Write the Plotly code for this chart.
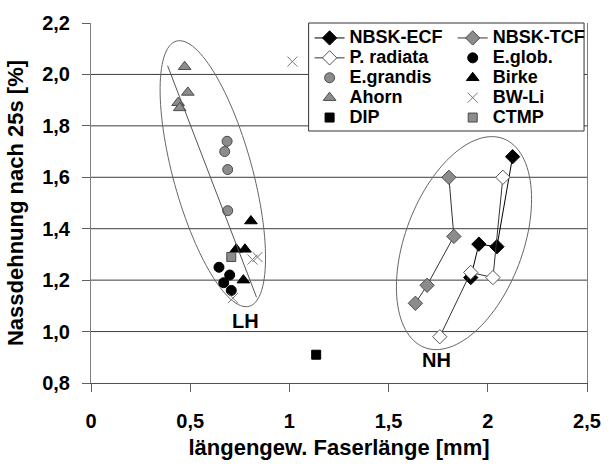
import math
import plotly.graph_objects as go

# Fibre length (mm) vs. wet expansion after 25 s (%)
nbsk_ecf_x = [2.125, 2.046, 1.955, 1.914]
nbsk_ecf_y = [1.68, 1.33, 1.34, 1.21]
p_radiata_x = [2.076, 2.026, 1.914, 1.758]
p_radiata_y = [1.60, 1.21, 1.23, 0.98]
nbsk_tcf_x = [1.804, 1.829, 1.694, 1.635]
nbsk_tcf_y = [1.60, 1.37, 1.18, 1.11]
e_glob_x = [0.645, 0.699, 0.669, 0.707]
e_glob_y = [1.25, 1.22, 1.19, 1.16]
e_grandis_x = [0.686, 0.674, 0.689, 0.689]
e_grandis_y = [1.74, 1.70, 1.63, 1.47]
birke_x = [0.806, 0.732, 0.776, 0.768]
birke_y = [1.43, 1.32, 1.32, 1.20]
ahorn_x = [0.472, 0.488, 0.439, 0.447]
ahorn_y = [2.03, 1.93, 1.89, 1.87]
bwli_x = [1.015, 0.814, 0.839, 0.715]
bwli_y = [2.05, 1.28, 1.29, 1.13]
dip_x = [1.135]
dip_y = [0.91]
ctmp_x = [0.707]
ctmp_y = [1.29]

# hardwood trend line
trend_x = [0.386, 0.834]
trend_y = [2.034, 1.134]

x_ticks = [0, 0.5, 1, 1.5, 2, 2.5]
x_labels = ["0", "0,5", "1", "1,5", "2", "2,5"]
y_ticks = [0.8, 1.0, 1.2, 1.4, 1.6, 1.8, 2.0, 2.2]
y_labels = ["0,8", "1,0", "1,2", "1,4", "1,6", "1,8", "2,0", "2,2"]

W, H = 613, 469
ML, MR, MT, MB = 91, 16, 23, 86
X_RANGE = [0, 2.5]
Y_RANGE = [0.8, 2.2]
PW, PH = W - ML - MR, H - MT - MB
SX = PW / (X_RANGE[1] - X_RANGE[0])
SY = PH / (Y_RANGE[1] - Y_RANGE[0])

FONT = "Liberation Sans, Arial, sans-serif"
GRAY = "#8c8c8c"
DARK = "#4a4a4a"
LEGEND_TEXT_PX = 18


def ellipse_path(cx, cy, a_px, b_px, tilt_deg, n=120):
    """Tilted ellipse in data units; semi-axes given in screen pixels."""
    th = math.radians(tilt_deg)
    ux, uy = math.sin(th), math.cos(th)
    vx, vy = math.cos(th), -math.sin(th)
    pts = []
    for i in range(n + 1):
        t = 2 * math.pi * i / n
        dx = a_px * ux * math.cos(t) + b_px * vx * math.sin(t)
        dy = a_px * uy * math.cos(t) + b_px * vy * math.sin(t)
        pts.append((cx + dx / SX, cy + dy / SY))
    return "M " + " L ".join(f"{x:.4f},{y:.4f}" for x, y in pts) + " Z"


def label(name):
    return f'<span style="font-size:{LEGEND_TEXT_PX}px">{name}</span>'


fig = go.Figure()

left_col = dict(legend="legend")
right_col = dict(legend="legend2")

fig.add_trace(go.Scatter(
    x=nbsk_ecf_x, y=nbsk_ecf_y, name=label("NBSK-ECF"), mode="lines+markers",
    line=dict(color="black", width=1),
    marker=dict(symbol="diamond", size=11, color="black", line=dict(color="black", width=1)),
    **left_col))
fig.add_trace(go.Scatter(
    x=p_radiata_x, y=p_radiata_y, name=label("P. radiata"), mode="lines+markers",
    line=dict(color="#333333", width=1),
    marker=dict(symbol="diamond", size=11, color="white", line=dict(color="#555555", width=1)),
    **left_col))
fig.add_trace(go.Scatter(
    x=e_grandis_x, y=e_grandis_y, name=label("E.grandis"), mode="markers",
    marker=dict(symbol="circle", size=10, color=GRAY, line=dict(color=DARK, width=1)),
    **left_col))
fig.add_trace(go.Scatter(
    x=ahorn_x, y=ahorn_y, name=label("Ahorn"), mode="markers",
    marker=dict(symbol="triangle-up", size=11, color=GRAY, line=dict(color=DARK, width=1)),
    **left_col))
fig.add_trace(go.Scatter(
    x=dip_x, y=dip_y, name=label("DIP"), mode="markers",
    marker=dict(symbol="square", size=9, color="black", line=dict(color="black", width=1)),
    **left_col))

fig.add_trace(go.Scatter(
    x=nbsk_tcf_x, y=nbsk_tcf_y, name=label("NBSK-TCF"), mode="lines+markers",
    line=dict(color="#333333", width=1),
    marker=dict(symbol="diamond", size=11, color=GRAY, line=dict(color=DARK, width=1)),
    **right_col))
fig.add_trace(go.Scatter(
    x=e_glob_x, y=e_glob_y, name=label("E.glob."), mode="markers",
    marker=dict(symbol="circle", size=10, color="black", line=dict(color="black", width=1)),
    **right_col))
fig.add_trace(go.Scatter(
    x=birke_x, y=birke_y, name=label("Birke"), mode="markers",
    marker=dict(symbol="triangle-up", size=11, color="black", line=dict(color="black", width=1)),
    **right_col))
fig.add_trace(go.Scatter(
    x=bwli_x, y=bwli_y, name=label("BW-Li"), mode="markers",
    marker=dict(symbol="x-thin-open", size=10, color="#777777", line=dict(color="#777777", width=1)),
    **right_col))
fig.add_trace(go.Scatter(
    x=ctmp_x, y=ctmp_y, name=label("CTMP"), mode="markers",
    marker=dict(symbol="square", size=9, color=GRAY, line=dict(color=DARK, width=1)),
    **right_col))

fig.add_trace(go.Scatter(
    x=trend_x, y=trend_y, mode="lines", showlegend=False, hoverinfo="skip",
    line=dict(color="#555555", width=1)))

shapes = []
# horizontal gridlines (none on the top edge)
for v in y_ticks[1:-1]:
    shapes.append(dict(type="line", xref="paper", x0=0, x1=1, yref="y", y0=v, y1=v,
                       line=dict(color="#3c3c3c", width=1), layer="below"))
# group outlines: hardwood (LH) and softwood (NH)
shapes.append(dict(type="path", xref="x", yref="y",
                   path=ellipse_path(0.614, 1.614, 137.7, 40.3, -15.7),
                   line=dict(color="#666666", width=1), layer="below"))
shapes.append(dict(type="path", xref="x", yref="y",
                   path=ellipse_path(1.880, 1.344, 111.9, 59.8, 21.3),
                   line=dict(color="#666666", width=1), layer="below"))
# legend frame
shapes.append(dict(type="rect", xref="paper", yref="paper",
                   x0=(313 - ML) / PW, x1=(594 - ML) / PW,
                   y0=1 - (131 - MT) / PH, y1=1,
                   fillcolor="white", line=dict(color="#333333", width=1), layer="above"))

tick_font = dict(family=FONT, size=20, color="black", weight="bold")
title_font = dict(family=FONT, size=22, color="black", weight="bold")
legend_font = dict(family=FONT, size=13, color="black", weight="bold")

fig.update_layout(
    width=W, height=H,
    margin=dict(l=ML, r=MR, t=MT, b=MB),
    paper_bgcolor="white", plot_bgcolor="white",
    shapes=shapes,
    xaxis=dict(range=X_RANGE, tickvals=x_ticks, ticktext=x_labels, showgrid=False,
               zeroline=False, showline=True, linecolor="#505050", linewidth=1,
               ticks="outside", ticklen=8, tickcolor="#606060", ticklabelstandoff=12,
               tickfont=tick_font,
               title=dict(text="längengew. Faserlänge [mm]", standoff=8, font=title_font)),
    yaxis=dict(range=Y_RANGE, tickvals=y_ticks, ticktext=y_labels, showgrid=False,
               zeroline=False, showline=True, linecolor="#808080", linewidth=1, mirror=True,
               ticks="outside", ticklen=8, tickcolor="#606060", ticklabelstandoff=8,
               tickfont=tick_font,
               title=dict(text="Nassdehnung nach 25s [%]", standoff=12, font=title_font)),
    legend=dict(x=(314 - ML) / PW, y=1,
                xanchor="left", yanchor="top", bgcolor="rgba(0,0,0,0)",
                font=legend_font, tracegroupgap=0, itemwidth=30),
    legend2=dict(x=(460 - ML) / PW, y=1,
                 xanchor="left", yanchor="top", bgcolor="rgba(0,0,0,0)",
                 font=legend_font, tracegroupgap=0, itemwidth=30),
    annotations=[
        dict(x=0.78, y=1.04, xref="x", yref="y", text="LH", showarrow=False,
             font=dict(family=FONT, size=20, color="black", weight="bold")),
        dict(x=1.739, y=0.888, xref="x", yref="y", text="NH", showarrow=False,
             font=dict(family=FONT, size=20, color="black", weight="bold")),
    ],
)

fig.write_html("out.html")
